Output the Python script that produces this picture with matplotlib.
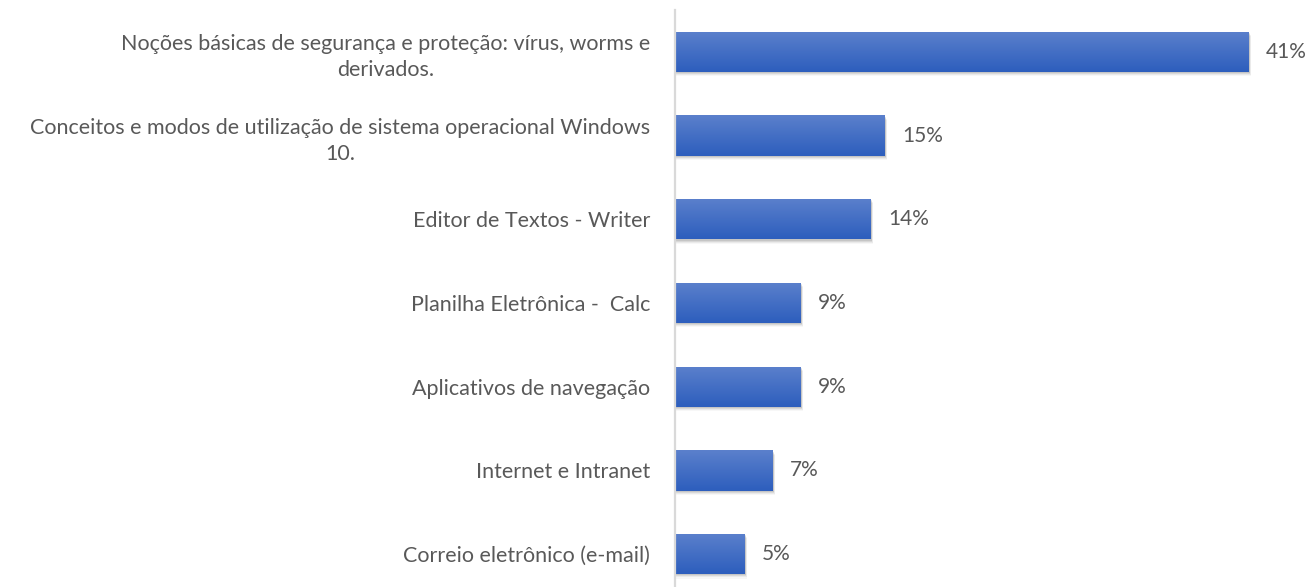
import matplotlib.pyplot as plt
import matplotlib.patches as mpatches
import numpy as np

# Dados
categorias = [
    "Noções básicas de segurança e proteção: vírus, worms e\nderivados.",
    "Conceitos e modos de utilização de sistema operacional Windows\n10.",
    "Editor de Textos - Writer",
    "Planilha Eletrônica -  Calc",
    "Aplicativos de navegação",
    "Internet e Intranet",
    "Correio eletrônico (e-mail)",
]
valores = [41, 15, 14, 9, 9, 7, 5]
rotulos = ["41%", "15%", "14%", "9%", "9%", "7%", "5%"]

plt.rcParams['font.family'] = ['Lato', 'DejaVu Sans']

fig = plt.figure(figsize=(13.08, 5.87), dpi=100)
W, H = 1308, 587
# eixo: x=0 em 675 px, 1% = 14 px; categorias espaçadas ~83.7 px
ax = fig.add_axes([675 / W, -9 / H, (W - 675) / W, 586 / H])
ax.set_xlim(0, (W - 675) / 14)
ax.set_ylim(6.5, -0.5)

y = np.arange(len(valores))
altura = 0.48

# gradiente vertical das barras
grad = np.linspace(0, 1, 64).reshape(-1, 1)
c_top = np.array([0x5B, 0x80, 0xCC]) / 255
c_bot = np.array([0x2D, 0x5E, 0xBD]) / 255
img = c_top + grad[..., None] * (c_bot - c_top)

for yi, v, lab in zip(y, valores, rotulos):
    # sombra (embaixo, suave)
    for k, a in enumerate([0.09, 0.07, 0.05, 0.03]):
        d = 0.015 + k * 0.012
        ax.add_patch(mpatches.Rectangle((0.05, yi - altura / 2 + d), v + k * 0.03, altura,
                                        facecolor='black', alpha=a, edgecolor='none', zorder=1))
    rect = mpatches.Rectangle((0, yi - altura / 2), v, altura, facecolor='none',
                              edgecolor='none', zorder=2)
    ax.add_patch(rect)
    im = ax.imshow(img, extent=[0, v, yi + altura / 2, yi - altura / 2], aspect='auto',
                   zorder=2, interpolation='bilinear')
    im.set_clip_path(rect)
    ax.text(v + 17 / 14, yi, lab, va='center', ha='left', fontsize=15, color='#595959')

ax.set_yticks(y)
ax.set_yticklabels(categorias, fontsize=15.5, color='#595959')
for t in ax.get_yticklabels():
    t.set_multialignment('center')
    t.set_linespacing(1.4)
ax.tick_params(axis='y', length=0, pad=18)
ax.tick_params(axis='x', bottom=False, labelbottom=False)

for s in ['top', 'right', 'bottom']:
    ax.spines[s].set_visible(False)
ax.spines['left'].set_color('#D9D9D9')
ax.spines['left'].set_linewidth(1.6)
ax.spines['left'].set_zorder(5)

fig.savefig('out.png', dpi=100)
